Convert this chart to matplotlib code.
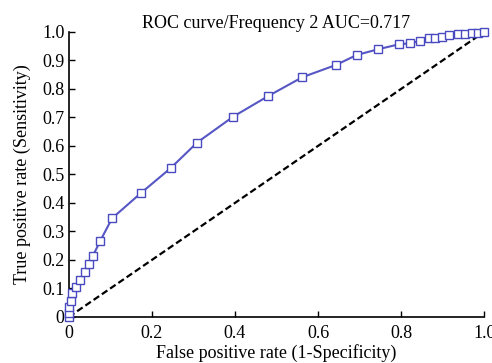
import matplotlib
matplotlib.use('Agg')
import matplotlib.pyplot as plt

# ROC 曲线数据 (假阳性率, 真阳性率)
fpr = [0.0, 0.0, 0.001, 0.004, 0.008, 0.017, 0.027, 0.040, 0.049, 0.057, 0.076,
       0.104, 0.173, 0.245, 0.309, 0.396, 0.480, 0.562, 0.643, 0.693, 0.744,
       0.796, 0.822, 0.846, 0.867, 0.882, 0.898, 0.916, 0.938, 0.954, 0.970,
       0.986, 1.0]
tpr = [0.0, 0.015, 0.036, 0.057, 0.083, 0.104, 0.130, 0.159, 0.186, 0.212, 0.268,
       0.346, 0.434, 0.522, 0.612, 0.703, 0.775, 0.841, 0.884, 0.919, 0.939,
       0.957, 0.960, 0.969, 0.978, 0.980, 0.984, 0.988, 0.992, 0.994, 0.996,
       0.997, 1.0]
auc = 0.717
xticks = [0, 0.2, 0.4, 0.6, 0.8, 1.0]
xtick_labels = ['0', '0.2', '0.4', '0.6', '0.8', '1.0']
yticks = [0, 0.1, 0.2, 0.3, 0.4, 0.5, 0.6, 0.7, 0.8, 0.9, 1.0]
ytick_labels = ['0', '0.1', '0.2', '0.3', '0.4', '0.5', '0.6', '0.7', '0.8', '0.9', '1.0']

plt.rcParams['font.family'] = ['Liberation Serif', 'DejaVu Serif']
fs = 13

fig = plt.figure(figsize=(4.92, 3.63), dpi=100)
ax = fig.add_axes([0.140, 0.127, 0.844, 0.785])

ax.plot([0, 1], [0, 1], color='black', linestyle=(0, (3, 1.5)), linewidth=1.6, zorder=2)
ax.plot(fpr, tpr, color='#5656c4', linewidth=1.5, marker='s', markersize=5.5,
        markerfacecolor='white', markeredgecolor='#4a4ac0', markeredgewidth=1.0,
        zorder=3, clip_on=False)

ax.set_xlim(0, 1)
ax.set_ylim(0, 1)
ax.set_xticks(xticks)
ax.set_xticklabels(xtick_labels)
ax.set_yticks(yticks)
ax.set_yticklabels(ytick_labels)
ax.tick_params(direction='in', length=4, width=1, labelsize=fs)
ax.tick_params(axis='x', pad=6)
ax.tick_params(axis='y', pad=3)

for side in ['top', 'right']:
    ax.spines[side].set_visible(False)
for side in ['left', 'bottom']:
    ax.spines[side].set_linewidth(1.2)

ax.set_title('ROC curve/Frequency 2 AUC=%.3f' % auc, fontsize=fs, pad=2)
ax.set_xlabel('False positive rate (1-Specificity)', fontsize=fs, labelpad=1)
ax.set_ylabel('True positive rate (Sensitivity)', fontsize=fs, labelpad=8)

fig.savefig('out.png', dpi=100)
